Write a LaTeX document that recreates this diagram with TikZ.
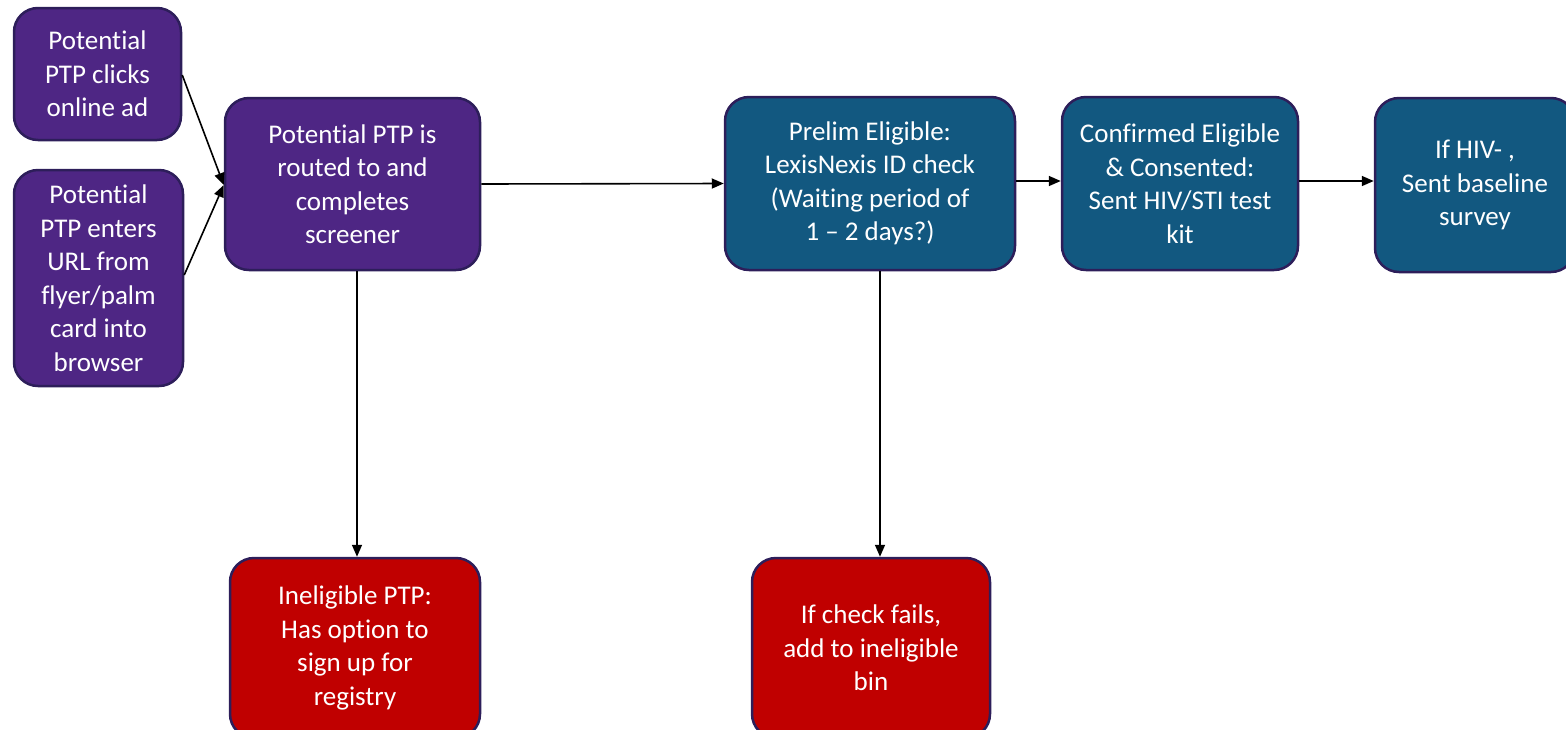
\documentclass[tikz,border=0pt]{standalone}
\usepackage{fontspec}
\setmainfont[RawFeature={-liga;-clig;-calt;-dlig}]{Carlito}
\usetikzlibrary{arrows.meta}
\definecolor{ppurple}{RGB}{78,38,132}
\definecolor{pblue}{RGB}{18,88,128}
\definecolor{pred}{RGB}{192,0,0}
\definecolor{pborder}{RGB}{45,30,90}
\tikzset{
  box/.style={draw=pborder, line width=2.5pt, rounded corners=24pt, text=white,
    align=center, inner sep=0pt, font=\fontsize{27}{33.5}\selectfont},
  purplebox/.style={box, fill=ppurple},
  bluebox/.style={box, fill=pblue},
  redbox/.style={box, fill=pred},
  conn/.style={line width=1.6pt, -{Triangle[length=12pt,width=10pt]}}
}
\begin{document}
\begin{tikzpicture}[x=1pt,y=-1pt]
\clip (0,0) rectangle (1566,729);
\node[purplebox, minimum width=167pt, minimum height=132pt] (A) at (97.5,74) {Potential\\PTP clicks\\online ad};
\node[purplebox, minimum width=169pt, minimum height=216pt] (B) at (98.5,278) {Potential\\PTP enters\\URL from\\flyer/palm\\card into\\browser};
\node[purplebox, minimum width=255pt, minimum height=172pt] (C) at (352.5,184) {Potential PTP is\\routed to and\\completes\\screener};
\node[bluebox, minimum width=290pt, minimum height=173pt] (D) at (870,183.5) {Prelim Eligible:\\LexisNexis ID check\\(Waiting period of\\1 -- 2 days?)};
\node[bluebox, minimum width=236pt, minimum height=173pt] (E) at (1180,183.5) {Confirmed Eligible\\\& Consented:\\Sent HIV/STI test\\kit};
\node[bluebox, minimum width=200pt, minimum height=174pt] (F) at (1475,185) {If HIV- ,\\Sent baseline\\survey};
\node[redbox, minimum width=250pt, minimum height=180pt] (G) at (355,648) {Ineligible PTP:\\Has option to\\sign up for\\registry};
\node[redbox, minimum width=238pt, minimum height=180pt] (H) at (871,648) {If check fails,\\add to ineligible\\bin};
\coordinate (Cin) at ([yshift=-1pt]C.west);
\draw[conn] (A.east |- 0,75) -- (Cin);
\draw[conn] (B.east |- 0,275) -- (Cin);
\draw[conn] (C.east) -- (D.west);
\draw[conn] (D.east |- 0,181) -- (E.west |- 0,181);
\draw[conn] (E.east |- 0,181) -- (F.west |- 0,181);
\draw[conn] (C.south -| 357,0) -- (G.north -| 357,0);
\draw[conn] (D.south -| 880,0) -- (H.north -| 880,0);
\end{tikzpicture}
\end{document}
